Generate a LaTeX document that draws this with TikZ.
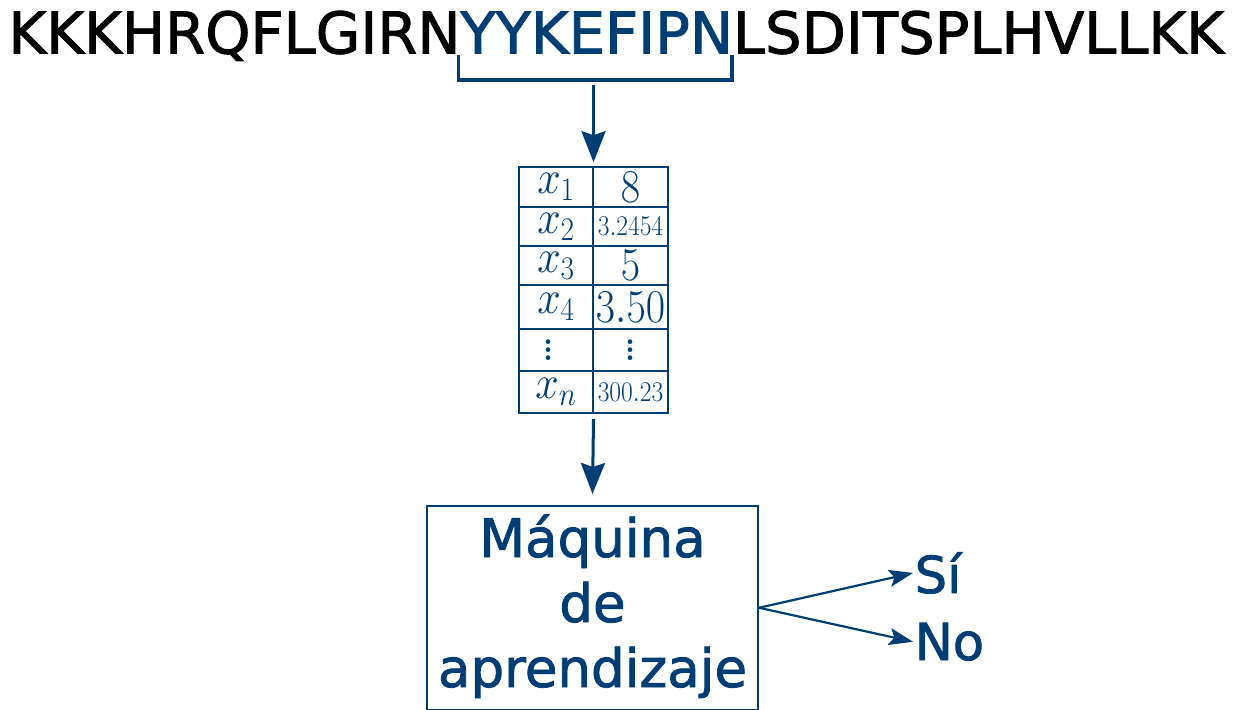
\RequirePackage{fix-cm}
\documentclass[tikz,border=0pt]{standalone}
\usepackage[no-math]{fontspec}
% DejaVu Sans with a slightly heavier stroke for the bold series
\newfontfamily\dejavu[BoldFont={DejaVu Sans}, BoldFeatures={FakeBold=1.6}]{DejaVu Sans}
\usetikzlibrary{arrows.meta,fit,calc}
\definecolor{navy}{RGB}{0,61,115}
% table entries are set slightly taller than wide
\newcommand\tallent[1]{\scalebox{1}[1.12]{#1}}
% vertical ellipsis with spacing that grows with the font
\newcommand\bigvdots{{\fontsize{56}{8}\selectfont\vbox{\baselineskip=8pt\lineskiplimit=-20pt\hbox{.}\hbox{.}\hbox{.}}}}
\tikzset{
  seq/.style={inner sep=0pt, outer sep=0pt, anchor=base west, font=\dejavu\bfseries\fontsize{57.6}{68}\selectfont},
  brk/.style={draw=navy, line width=3.5pt},
  bigarrow/.style={draw=navy, line width=3pt, -{Stealth[length=31pt,width=24pt,inset=4pt]}},
  smallarrow/.style={draw=navy, line width=2.2pt, -{Stealth[length=24pt,width=17pt,inset=5pt]}},
  cell/.style={draw=navy, line width=1.2pt, inner sep=0pt, text=navy},
  lcol/.style={cell, minimum width=74pt},
  rcol/.style={cell, minimum width=75pt},
  big/.style={font=\fontsize{42}{50}\selectfont},
  small/.style={font=\fontsize{25.5}{30}\selectfont},
  machine/.style={draw=navy, line width=2pt, text=navy, align=center,
    font=\dejavu\bfseries\fontsize{53}{65}\selectfont, minimum width=331pt,
    text height=169pt, text depth=10.5pt, inner ysep=12pt, anchor=base},
  answer/.style={inner sep=0pt, anchor=base west, text=navy, font=\dejavu\bfseries\fontsize{51}{61}\selectfont},
}
\begin{document}
\begin{tikzpicture}[x=1pt,y=-1pt]
\useasboundingbox (0,0) rectangle (1238,709);

% peptide sequence with the selected window in blue
\node[seq] (pre) at (8.5,53.5) {KKKHRQFLGIRN};
\node[seq, text=navy] (mid) at (pre.base east) {YYKEFIPN};
\node[seq] (post) at (mid.base east) {LSDITSPLHVLLKK};

% bracket under the window
\coordinate (bl) at ([xshift=-2pt,yshift=-1.5pt]mid.base west);
\coordinate (br) at ([xshift=-1pt,yshift=-1.5pt]mid.base east);
\draw[brk] (bl) -- ++(0,25) -| (br);
\coordinate (brk) at ($(bl)+(0,25)$);

% feature table
\node[lcol, big, minimum height=40pt] (c11) at (556,187) {\tallent{$x_1$}};
\node[rcol, big, minimum height=40pt] (c12) at (630.5,187) {\tallent{$8$}};
\node[lcol, big, minimum height=39pt] (c21) at (556,226.5) {\tallent{$x_2$}};
\node[rcol, small, minimum height=39pt] (c22) at (630.5,226.5) {\tallent{$3.2454$}};
\node[lcol, big, minimum height=39pt] (c31) at (556,265.5) {\tallent{$x_3$}};
\node[rcol, big, minimum height=39pt] (c32) at (630.5,265.5) {\tallent{$5$}};
\node[lcol, big, minimum height=44pt] (c41) at (556,307) {\tallent{$x_4$}};
\node[rcol, big, minimum height=44pt] (c42) at (630.5,307) {\tallent{$3.50$}};
\node[lcol, big, minimum height=42pt] (c51) at (556,350) {\bigvdots\kern16pt};
\node[rcol, big, minimum height=42pt] (c52) at (630.5,350) {\bigvdots};
\node[lcol, big, minimum height=42pt] (c61) at (556,392) {\tallent{$x_n$}};
\node[rcol, small, minimum height=42pt] (c62) at (630.5,392) {\tallent{$300.23$}};
\node[fit=(c11)(c62), inner sep=0pt] (tbl) {};

% classifier
\node[machine] (mach) at (592.5,687) {Máquina\\de\\aprendizaje};

% outputs
\node[answer] (si) at (914.5,593) {Sí};
\node[answer] (no) at (914.5,660) {No};

% connectors
\coordinate (a1) at (tbl.north |- brk);
\draw[bigarrow] ([yshift=-5pt]a1) -- ([yshift=4pt]tbl.north);
\draw[bigarrow] ([yshift=-5pt]tbl.south) -- ([yshift=11pt]mach.north);
\draw[smallarrow] (mach.east) -- ([xshift=-1.5pt]si.west);
\draw[smallarrow] (mach.east) -- ([xshift=-1.5pt]no.west);
\end{tikzpicture}
\end{document}
